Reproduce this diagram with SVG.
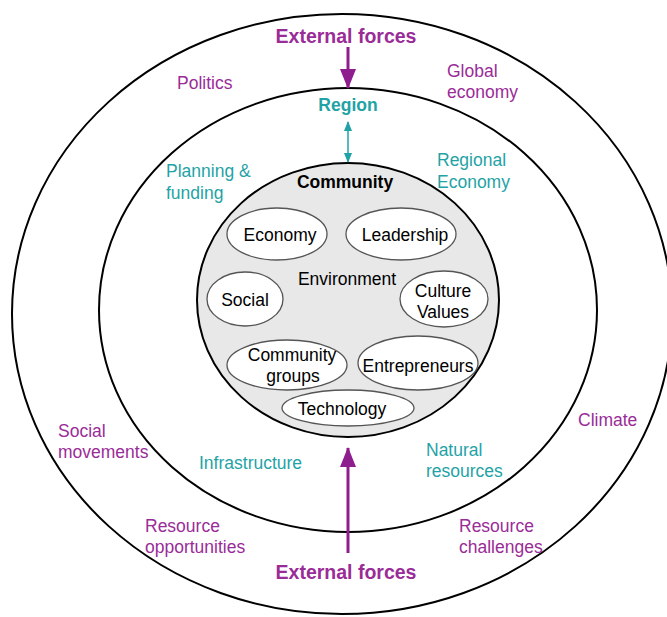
<svg xmlns="http://www.w3.org/2000/svg" width="667" height="617" viewBox="0 0 667 617">
<style>
text{font-family:"Liberation Sans",Arial,sans-serif;font-size:17.5px}
.p{fill:#9a2c98}
.t{fill:#1fa3a6}
.k{fill:#000}
.b{font-weight:bold}
.ring{fill:none;stroke:#000;stroke-width:2}
.sub{fill:#fff;stroke:#555;stroke-width:1.3}
.mid{text-anchor:middle}
</style>
<defs>
<marker id="pa" markerWidth="20" markerHeight="16" refX="19" refY="8" orient="auto" markerUnits="userSpaceOnUse"><path d="M0,0 L20,8 L0,16 Z" fill="#8e1d8e"/></marker>
<marker id="ta" markerWidth="10" markerHeight="8" refX="9" refY="4" orient="auto-start-reverse" markerUnits="userSpaceOnUse"><path d="M0,0 L10,4 L0,8 Z" fill="#1fa3a6"/></marker>
</defs>
<g id="outer"><ellipse class="ring" cx="342" cy="314" rx="330" ry="300"/></g>
<g id="region"><ellipse class="ring" cx="348" cy="310" rx="249" ry="222"/></g>
<g id="community"><ellipse cx="348" cy="300" rx="151" ry="137" fill="#e8e8e8" stroke="#000" stroke-width="2"/>
<text class="k b mid" x="345" y="188">Community</text>
<text class="k mid" x="347" y="285">Environment</text></g>
<g id="economy"><ellipse class="sub" cx="277" cy="234" rx="50" ry="26"/><text class="k mid" x="280" y="241">Economy</text></g>
<g id="leadership"><ellipse class="sub" cx="401" cy="234" rx="55" ry="26"/><text class="k mid" x="405" y="241">Leadership</text></g>
<g id="social"><ellipse class="sub" cx="245" cy="299" rx="38" ry="27"/><text class="k mid" x="245" y="306">Social</text></g>
<g id="culture"><ellipse class="sub" cx="444" cy="299" rx="44" ry="28"/><text class="k mid" x="443" y="297">Culture</text><text class="k mid" x="443" y="318">Values</text></g>
<g id="groups"><ellipse class="sub" cx="287" cy="365" rx="60" ry="25"/><text class="k mid" x="292" y="361">Community</text><text class="k mid" x="293" y="382">groups</text></g>
<g id="entrepreneurs"><ellipse class="sub" cx="418" cy="363" rx="60" ry="27"/><text class="k mid" x="418" y="372">Entrepreneurs</text></g>
<g id="technology"><ellipse class="sub" cx="348" cy="408" rx="66" ry="18"/><text class="k mid" x="342" y="415">Technology</text></g>
<g id="labels">
<text class="p b mid" x="346" y="43" style="font-size:19.5px">External forces</text>
<text class="p b mid" x="346" y="579" style="font-size:19.5px">External forces</text>
<text class="t b mid" x="348" y="111">Region</text>
<text class="p" x="177" y="89">Politics</text>
<text class="p" x="447" y="77">Global</text><text class="p" x="447" y="98">economy</text>
<text class="t" x="166" y="177">Planning &amp;</text><text class="t" x="166" y="199">funding</text>
<text class="t" x="437" y="166">Regional</text><text class="t" x="437" y="188">Economy</text>
<text class="p" x="58" y="437">Social</text><text class="p" x="58" y="458">movements</text>
<text class="t" x="199" y="469">Infrastructure</text>
<text class="t" x="426" y="456">Natural</text><text class="t" x="426" y="477">resources</text>
<text class="p" x="578" y="426">Climate</text>
<text class="p" x="145" y="532">Resource</text><text class="p" x="145" y="553">opportunities</text>
<text class="p" x="459" y="532">Resource</text><text class="p" x="459" y="553">challenges</text>
</g>
<g id="connectors">
<line x1="348" y1="47" x2="348" y2="88" stroke="#8e1d8e" stroke-width="3" marker-end="url(#pa)"/>
<line x1="348" y1="553" x2="348" y2="448" stroke="#8e1d8e" stroke-width="3" marker-end="url(#pa)"/>
<line x1="348" y1="122" x2="348" y2="162" stroke="#1fa3a6" stroke-width="1.5" marker-start="url(#ta)" marker-end="url(#ta)"/>
</g>
</svg>
